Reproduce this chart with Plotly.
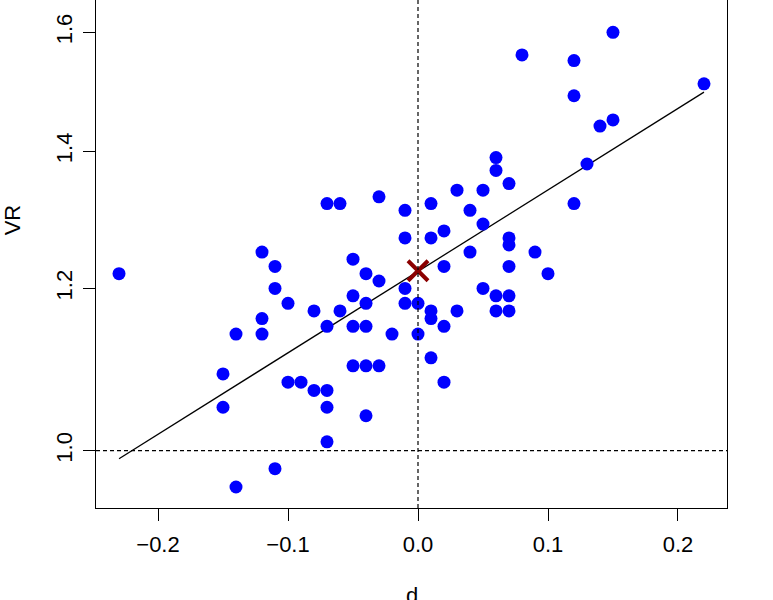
import plotly.graph_objects as go

# d (x) and VR (y) values
d_vals = [
    -0.23, -0.15, -0.15, -0.14, -0.14, -0.12, -0.12, -0.12, -0.11, -0.11,
    -0.11, -0.10, -0.10, -0.09, -0.08, -0.08, -0.07, -0.06, -0.07, -0.07,
    -0.07, -0.07, -0.06, -0.05, -0.05, -0.05, -0.05, -0.04, -0.04, -0.04,
    -0.04, -0.04, -0.03, -0.03, -0.03, -0.02, -0.01, -0.01, -0.01, -0.01,
    0.00, 0.00, 0.01, 0.01, 0.01, 0.01, 0.01, 0.02, 0.02, 0.02,
    0.02, 0.03, 0.03, 0.04, 0.04, 0.05, 0.05, 0.05, 0.06, 0.06,
    0.06, 0.06, 0.07, 0.07, 0.07, 0.07, 0.07, 0.07, 0.08, 0.09,
    0.10, 0.12, 0.12, 0.12, 0.13, 0.14, 0.15, 0.15, 0.22,
]
vr_vals = [
    1.22, 1.09, 1.05, 1.14, 0.96, 1.25, 1.16, 1.14, 1.23, 1.20,
    0.98, 1.18, 1.08, 1.08, 1.17, 1.07, 1.32, 1.32, 1.15, 1.07,
    1.05, 1.01, 1.17, 1.24, 1.19, 1.15, 1.10, 1.22, 1.18, 1.15,
    1.10, 1.04, 1.33, 1.21, 1.10, 1.14, 1.31, 1.27, 1.20, 1.18,
    1.18, 1.14, 1.32, 1.27, 1.17, 1.16, 1.11, 1.28, 1.23, 1.15,
    1.08, 1.34, 1.17, 1.31, 1.25, 1.34, 1.29, 1.20, 1.39, 1.37,
    1.19, 1.17, 1.35, 1.27, 1.26, 1.23, 1.19, 1.17, 1.56, 1.25,
    1.22, 1.55, 1.49, 1.32, 1.38, 1.44, 1.60, 1.45, 1.51,
]

# fitted line end points and the mean point
fit_d = [-0.23, 0.22]
fit_vr = [0.991, 1.496]
mean_d = [0.0]
mean_vr = [1.224]

x_ticks = [-0.2, -0.1, 0.0, 0.1, 0.2]
y_ticks = [1.0, 1.2, 1.4, 1.6]
y_labels = ["1.0", "1.2", "1.4", "1.6"]

font = "Liberation Sans, Arial, sans-serif"

fig = go.Figure()

fig.add_trace(go.Scatter(
    x=fit_d, y=fit_vr, mode="lines",
    line=dict(color="black", width=1.3), hoverinfo="skip"
))
fig.add_trace(go.Scatter(
    x=d_vals, y=vr_vals, mode="markers",
    marker=dict(color="#0000FF", size=13, line=dict(width=0))
))
fig.add_trace(go.Scatter(
    x=mean_d, y=mean_vr, mode="markers",
    marker=dict(symbol="x-thin", size=20, color="#8B0000",
                line=dict(color="#8B0000", width=4))
))

# reference lines
fig.add_vline(x=0, line=dict(color="black", width=1.2, dash="4px,3px"))
fig.add_hline(y=1.0, line=dict(color="black", width=1.2, dash="4px,3px"))

fig.update_xaxes(
    range=[-0.2477, 0.2377],
    tickvals=x_ticks, tickformat=".1f",
    ticks="outside", ticklen=12, tickwidth=1.2, tickcolor="black",
    ticklabelstandoff=4,
    showline=True, linecolor="black", linewidth=1.3,
    showgrid=False, zeroline=False,
    tickfont=dict(family=font, size=22, color="black"),
)
fig.update_yaxes(
    type="log", range=[-0.02797, 0.2199],
    tickvals=y_ticks, ticktext=y_labels, tickangle=-90,
    ticks="outside", ticklen=12, tickwidth=1.2, tickcolor="black",
    ticklabelstandoff=2,
    showline=True, mirror=True, linecolor="black", linewidth=1.3,
    showgrid=False, zeroline=False,
    tickfont=dict(family=font, size=22, color="black"),
)

fig.add_annotation(
    text="VR", xref="paper", yref="paper", x=-0.131, y=0.567,
    xanchor="center", yanchor="middle", textangle=-90, showarrow=False,
    font=dict(family=font, size=22, color="black"),
)
fig.add_annotation(
    text="d", xref="paper", yref="paper", x=0.5, y=-0.172,
    xanchor="center", yanchor="middle", showarrow=False,
    font=dict(family=font, size=22, color="black"),
)

fig.update_layout(
    width=773, height=600,
    margin=dict(l=96, r=46, t=0, b=92),
    plot_bgcolor="white", paper_bgcolor="white",
    showlegend=False,
)

fig.write_html("out.html", config={"displayModeBar": False},
               post_script="document.body.style.margin='0';")
